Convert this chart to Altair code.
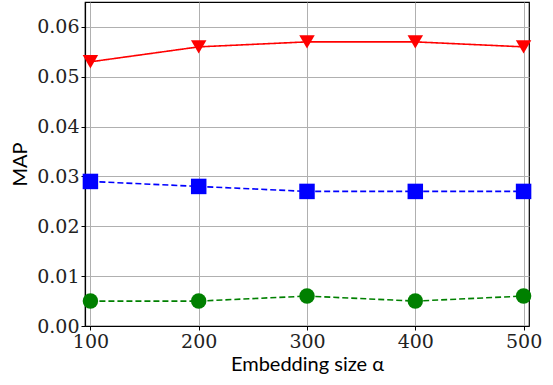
import altair as alt
import pandas as pd

# Embedding sizes on the x axis
sizes = [100, 200, 300, 400, 500]

# MAP for each series
map_red = [0.053, 0.056, 0.057, 0.057, 0.056]
map_blue = [0.029, 0.028, 0.027, 0.027, 0.027]
map_green = [0.005, 0.005, 0.006, 0.005, 0.006]

series_names = ["red", "blue", "green"]
series_values = [map_red, map_blue, map_green]

rows = []
for name, vals in zip(series_names, series_values):
    for s, v in zip(sizes, vals):
        rows.append({"size": s, "map": v, "series": name})
df = pd.DataFrame(rows)

color_scale = alt.Scale(domain=series_names, range=["#ff0000", "#0000ff", "#008000"])
shape_scale = alt.Scale(domain=series_names, range=["triangle-down", "square", "circle"])
dash_scale = alt.Scale(domain=series_names, range=[[1, 0], [6, 3], [6, 3]])

serif = "DejaVu Serif"
sans = "Lato"

x_enc = alt.X("size:Q", scale=alt.Scale(domain=[95, 505], nice=False, zero=False),
              axis=alt.Axis(values=sizes, format="d", title="Embedding size α"))
y_enc = alt.Y("map:Q", scale=alt.Scale(domain=[0, 0.065], nice=False),
              axis=alt.Axis(values=[0, 0.01, 0.02, 0.03, 0.04, 0.05, 0.06],
                            format=".2f", title="MAP"))

base = alt.Chart(df)

lines = base.mark_line(strokeWidth=1.6).encode(
    x=x_enc, y=y_enc,
    color=alt.Color("series:N", scale=color_scale, legend=None),
    strokeDash=alt.StrokeDash("series:N", scale=dash_scale, legend=None),
    detail="series:N",
)

points = base.mark_point(filled=True, size=240, opacity=1).encode(
    x="size:Q", y="map:Q",
    color=alt.Color("series:N", scale=color_scale, legend=None),
    shape=alt.Shape("series:N", scale=shape_scale, legend=None),
)

chart = (
    alt.layer(lines, points)
    .properties(
        width=444, height=324,
        padding={"left": 85, "top": 2, "right": 24, "bottom": 59},
        autosize=alt.AutoSizeParams(type="none"),
    )
    .configure_view(stroke="black", strokeWidth=1.2)
    .configure_axis(
        grid=True, gridColor="#b0b0b0", gridWidth=1,
        domainColor="black", domainWidth=1.2,
        tickColor="black", tickSize=4,
        labelFont=serif, labelFontSize=19, labelColor="#222222",
        labelPadding=2,
        titleFont=sans, titleFontSize=20, titleFontWeight="normal",
        titleColor="black",
    )
    .configure_axisX(titlePadding=3)
    .configure_axisY(titlePadding=6)
)

chart.save("out.html", embed_options={"renderer": "svg", "actions": False})
